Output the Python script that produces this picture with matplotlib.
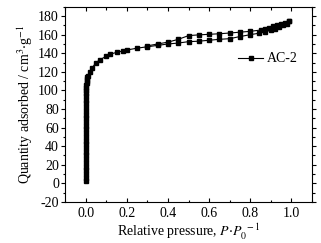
import matplotlib
matplotlib.use('Agg')
import matplotlib.pyplot as plt
from matplotlib.ticker import MultipleLocator

plt.rcParams['font.family'] = ['Liberation Serif', 'DejaVu Serif']
plt.rcParams['mathtext.fontset'] = 'stix'
plt.rcParams['font.size'] = 10
plt.rcParams['axes.unicode_minus'] = False

# adsorption branch (lower)
ads_p = [0.00001, 0.00002, 0.00003, 0.00005, 0.00007, 0.0001, 0.00013, 0.00016, 0.0002,
         0.00025, 0.0003, 0.00035, 0.0004, 0.0005, 0.0006, 0.0007, 0.0008, 0.0009, 0.001,
         0.0012, 0.0014, 0.0016, 0.0018, 0.002, 0.0023, 0.0026, 0.003, 0.0035, 0.004,
         0.005, 0.006, 0.008, 0.01, 0.02, 0.03, 0.05, 0.07, 0.1, 0.12, 0.15, 0.18, 0.2,
         0.25, 0.3, 0.35, 0.4, 0.45, 0.5, 0.55, 0.6, 0.65, 0.7, 0.75, 0.8, 0.84, 0.87,
         0.9, 0.92, 0.94, 0.96, 0.98, 0.99]
ads_q = [3, 6, 10, 14, 18, 22, 26, 30, 34,
         38, 42, 46, 50, 54, 58, 62, 66, 70, 74,
         78, 82, 86, 90, 94, 97, 100, 103, 106, 108,
         110, 112, 114, 116, 120, 124, 130, 133, 137, 139, 141, 142.5, 143.5,
         145.5, 147, 148.5, 150, 151, 152.5, 153, 154, 155, 155.7, 158, 160, 161.5, 163,
         165, 166.5, 168, 170, 172, 175]

# desorption branch (upper)
des_p = [0.99, 0.97, 0.95, 0.93, 0.91, 0.89, 0.87, 0.85, 0.8, 0.75, 0.7, 0.65,
         0.6, 0.55, 0.5, 0.45, 0.4, 0.35, 0.3]
des_q = [175, 173, 171, 170, 169, 167.5, 166, 165, 163.6, 162.7, 161.8, 161,
         160.4, 159.8, 159, 155, 152, 150, 148]

fig = plt.figure(figsize=(3.21, 2.43), dpi=100)
ax = fig.add_axes([0.203, 0.169, 0.769, 0.803])

ax.plot(ads_p, ads_q, color='black', marker='s', markersize=3.5, linewidth=0.8, label='AC-2')
ax.plot(des_p, des_q, color='black', marker='s', markersize=3.5, linewidth=0.8)

ax.set_xlim(-0.1, 1.1)
ax.set_ylim(-20, 190)
ax.xaxis.set_minor_locator(MultipleLocator(0.1))
ax.yaxis.set_major_locator(MultipleLocator(20))
ax.yaxis.set_minor_locator(MultipleLocator(10))
ax.set_xticks([0, 0.2, 0.4, 0.6, 0.8, 1.0])
ax.set_xticklabels(['0.0', '0.2', '0.4', '0.6', '0.8', '1.0'])

ax.tick_params(which='both', direction='in', top=True, right=True, width=0.8)
ax.tick_params(axis='y', which='both', direction='out', left=True)
ax.tick_params(which='major', length=3)
ax.tick_params(which='minor', length=1.8)
ax.tick_params(axis='y', which='major', pad=1.5)
ax.tick_params(axis='x', which='major', pad=4)

ax.set_xlabel(r'Relative pressure, $P{\cdot}P_0^{\ -1}$', labelpad=1)
ax.set_ylabel(r'Quantity adsorbed / cm$^3{\cdot}$g$^{-1}$', labelpad=2)

ax.legend(loc='upper left', bbox_to_anchor=(0.65, 0.83), frameon=False,
          handlelength=1.8, handletextpad=0.3, markerscale=1)

plt.savefig('out.png', dpi=100)
